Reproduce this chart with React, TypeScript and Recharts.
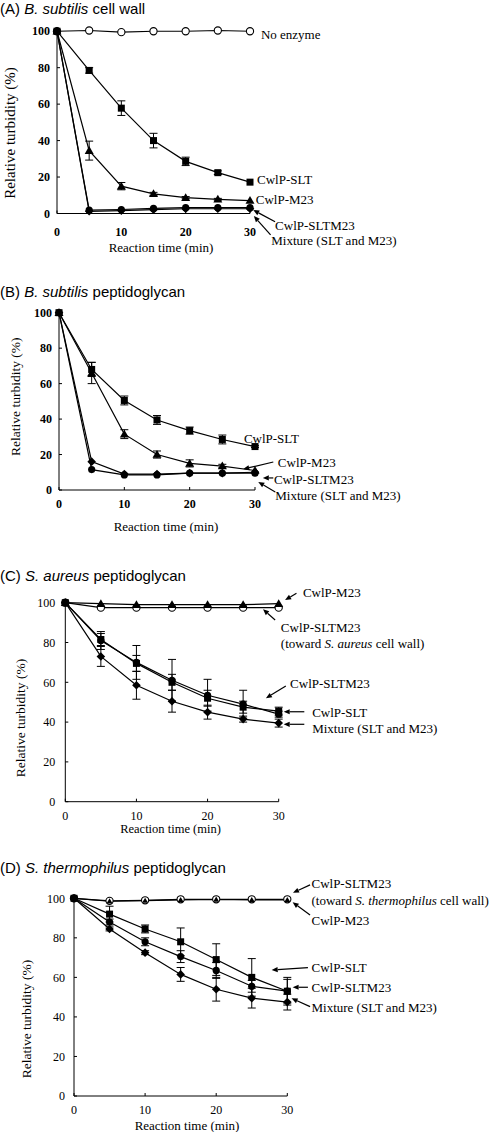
import React from 'react';
import { LineChart, Line, XAxis, YAxis, ErrorBar, ReferenceLine, ReferenceDot } from 'recharts';

const SERIF = "'Liberation Serif', 'Times New Roman', serif";
const SANS = "'Liberation Sans', Arial, sans-serif";

const times = [0, 5, 10, 15, 20, 25, 30];
const xTicks = [0, 10, 20, 30];
const yTicks = [0, 20, 40, 60, 80, 100];

// Panel A: B. subtilis cell wall
const aNoEnzyme = [100, 100.4, 99.5, 100, 100, 100.4, 100];
const aSlt = [100, 78.5, 57.8, 40, 28.6, 22.4, 17.2];
const aSltErr = [0, 1.5, 4, 4, 2.3, 1, 0];
const aM23 = [100, 34.5, 15, 10.8, 8.7, 7.8, 7.1];
const aM23Err = [0, 5.2, 2, 0.8, 0.6, 0.5, 0];
const aSltm23 = [100, 1.2, 1.6, 2.1, 2.6, 2.6, 2.6];
const aMix = [100, 1.8, 2.2, 2.8, 3.2, 3.2, 3.2];

// Panel B: B. subtilis peptidoglycan
const bSlt = [100, 68, 50.5, 39.5, 33.5, 28.5, 24.5];
const bSltErr = [0, 4, 2.5, 2.5, 2, 2.5, 0.5];
const bM23 = [100, 66, 31.5, 20, 15, 13.5, 11];
const bM23Err = [0, 6, 2.5, 2, 2, 1, 0];
const bSltm23 = [100, 16, 9, 9, 9.5, 9.5, 10];
const bMix = [100, 11.5, 8.5, 8.5, 9.5, 9.5, 9.5];

// Panel C: S. aureus peptidoglycan
const cM23 = [100, 99.5, 99, 99, 99, 99, 99.5];
const cSltm23Toward = [100, 97.5, 97.5, 97.5, 97.5, 97.5, 97.5];
const cSltm23 = [100, 81, 70, 61, 53.5, 49, 44];
const cSltm23Err = [0, 4.5, 8.5, 10.5, 8, 7, 1.5];
const cSlt = [100, 81.5, 69.5, 60, 52, 47.5, 45.5];
const cSltErr = [0, 3, 4, 4, 4, 3, 2];
const cMix = [100, 73, 58.5, 50.5, 45, 41.5, 39.5];
const cMixErr = [0, 5, 7, 5.5, 3.5, 1.5, 2];

// Panel D: S. thermophilus peptidoglycan
const dSltm23Toward = [100, 98.7, 99, 99.5, 99.5, 99.5, 99.5];
const dM23 = [100, 98.5, 98.8, 99.2, 99.4, 99.2, 99.2];
const dSlt = [100, 92, 84.5, 78, 69, 60, 53];
const dSltErr = [0, 4, 2, 7, 8, 9.5, 7];
const dSltm23 = [100, 88, 78, 70.5, 63.5, 55.5, 53];
const dSltm23Err = [0, 1.5, 2, 3, 4, 3, 6];
const dMix = [100, 84.5, 72.5, 61.5, 54, 49.5, 47.5];
const dMixErr = [0, 1, 1, 3.5, 6, 5, 4];

type Seg = [string, boolean?];
type Lab = { segs: Seg[]; t: number; v: number };
type Arr = { t1: number; v1: number; t2: number; v2: number };

const aLabels: Lab[] = [
  { segs: [['No enzyme']], t: 31.7, v: 98.1 },
  { segs: [['CwlP-SLT']], t: 31.1, v: 18.9 },
  { segs: [['CwlP-M23']], t: 30.9, v: 7.9 },
  { segs: [['CwlP-SLTM23']], t: 33.9, v: -6.8 },
  { segs: [['Mixture (SLT and M23)']], t: 33.3, v: -15 },
];
const aArrows: Arr[] = [
  { t1: 33.9, v1: -4.5, t2: 30.5, v2: 1.9 },
  { t1: 33.2, v1: -11.7, t2: 30.6, v2: -1.4 },
];

const bLabels: Lab[] = [
  { segs: [['CwlP-SLT']], t: 28.3, v: 28.8 },
  { segs: [['CwlP-M23']], t: 33.5, v: 15.8 },
  { segs: [['CwlP-SLTM23']], t: 32.9, v: 6.2 },
  { segs: [['Mixture (SLT and M23)']], t: 33.1, v: -2.8 },
];
const bArrows: Arr[] = [
  { t1: 32.8, v1: 15.8, t2: 28.2, v2: 11.8 },
  { t1: 32.8, v1: 6.8, t2: 31.2, v2: 6.8 },
  { t1: 33.1, v1: -1.1, t2: 30.5, v2: 4.5 },
];

const cLabels: Lab[] = [
  { segs: [['CwlP-M23']], t: 33.4, v: 104.9 },
  { segs: [['CwlP-SLTM23']], t: 30.3, v: 87.8 },
  { segs: [['(toward '], ['S. aureus', true], [' cell wall)']], t: 30.3, v: 79.7 },
  { segs: [['CwlP-SLTM23']], t: 31.6, v: 59.2 },
  { segs: [['CwlP-SLT']], t: 34.7, v: 45.1 },
  { segs: [['Mixture (SLT and M23)']], t: 34.7, v: 37.0 },
];
const cArrows: Arr[] = [
  { t1: 32.5, v1: 104.7, t2: 30.9, v2: 101.4 },
  { t1: 29.5, v1: 91.3, t2: 27.8, v2: 96.7 },
  { t1: 31.0, v1: 58.1, t2: 28.2, v2: 52.0 },
  { t1: 33.6, v1: 45.2, t2: 30.7, v2: 45.2 },
  { t1: 33.6, v1: 38.9, t2: 30.7, v2: 38.9 },
];

const dLabels: Lab[] = [
  { segs: [['CwlP-SLTM23']], t: 33.4, v: 107.3 },
  { segs: [['(toward '], ['S. thermophilus', true], [' cell wall)']], t: 33.4, v: 99.1 },
  { segs: [['CwlP-M23']], t: 33.4, v: 88.7 },
  { segs: [['CwlP-SLT']], t: 33.4, v: 64.9 },
  { segs: [['CwlP-SLTM23']], t: 33.4, v: 55.0 },
  { segs: [['Mixture (SLT and M23)']], t: 33.4, v: 44.9 },
];
const dArrows: Arr[] = [
  { t1: 33.2, v1: 106.8, t2: 30.8, v2: 102.8 },
  { t1: 33.2, v1: 91.6, t2: 30.75, v2: 98.0 },
  { t1: 32.9, v1: 64.9, t2: 27.8, v2: 63.7 },
  { t1: 32.9, v1: 55.0, t2: 30.75, v2: 55.0 },
  { t1: 33.2, v1: 45.2, t2: 30.6, v2: 49.4 },
];

type Kind = 'openCircle' | 'square' | 'triangle' | 'diamond' | 'circle' | 'smallTriangle';

const rows = (vals: number[], errs?: number[]) =>
  times.map((t, i) => ({ t, v: vals[i], e: errs ? errs[i] : 0 }));

const marker = (kind: Kind) => (p: any) => {
  const { cx, cy, index } = p;
  if (cx == null || cy == null) return <g key={index} />;
  const k = `m-${index}`;
  switch (kind) {
    case 'openCircle':
      return <circle key={k} cx={cx} cy={cy} r={3.6} fill="#fff" stroke="#000" strokeWidth={1.1} />;
    case 'square':
      return <rect key={k} x={cx - 3.5} y={cy - 3.5} width={7} height={7} fill="#000" />;
    case 'triangle':
      return <polygon key={k} points={`${cx},${cy - 4.5} ${cx - 4.5},${cy + 3.3} ${cx + 4.5},${cy + 3.3}`} fill="#000" />;
    case 'smallTriangle':
      return <polygon key={k} points={`${cx},${cy - 3} ${cx - 3},${cy + 2.2} ${cx + 3},${cy + 2.2}`} fill="#000" />;
    case 'diamond':
      return <polygon key={k} points={`${cx},${cy - 4.3} ${cx + 4.3},${cy} ${cx},${cy + 4.3} ${cx - 4.3},${cy}`} fill="#000" />;
    default:
      return <circle key={k} cx={cx} cy={cy} r={3.6} fill="#000" />;
  }
};

const ArrowShape = (p: any) => {
  const { x1, y1, x2, y2 } = p;
  if ([x1, y1, x2, y2].some((n) => n == null || Number.isNaN(n))) return <g />;
  const ang = Math.atan2(y2 - y1, x2 - x1);
  const L = 6;
  const W = 2.6;
  const c = Math.cos(ang);
  const s = Math.sin(ang);
  const bx = x2 - L * c;
  const by = y2 - L * s;
  return (
    <g>
      <line x1={x1} y1={y1} x2={bx} y2={by} stroke="#000" strokeWidth={1.2} />
      <polygon points={`${x2},${y2} ${bx - W * s},${by + W * c} ${bx + W * s},${by - W * c}`} fill="#000" />
    </g>
  );
};

const textShape = (segs: Seg[]) => (p: any) => (
  <text x={p.cx} y={p.cy} dy="0.35em" fontFamily={SERIF} fontSize={13} fill="#000" textAnchor="start">
    {segs.map(([s, it], i) => (
      <tspan key={i} fontStyle={it ? 'italic' : 'normal'}>{s}</tspan>
    ))}
  </text>
);

type Series = { vals: number[]; errs?: number[]; kind: Kind };
type Geo = {
  top: number; height: number; plotTop: number; plotBottom: number; plotLeft: number; plotRight: number;
  xTickMargin: number; yTickMargin: number; bold: boolean;
};

function Panel({ g, series, labels, arrows }: { g: Geo; series: Series[]; labels: Lab[]; arrows: Arr[] }) {
  const tickStyle = { fontSize: 12, fontFamily: SERIF, fontWeight: g.bold ? 'bold' : 'normal', fill: '#000' } as any;
  return (
    <div style={{ position: 'absolute', left: 0, top: g.top, width: 498, height: g.height }}>
      <LineChart
        width={498}
        height={g.height}
        margin={{ top: g.plotTop - g.top, right: 498 - g.plotRight, bottom: 0, left: 0 }}
        style={{ overflow: 'visible' }}
      >
        <XAxis
          type="number"
          dataKey="t"
          domain={[0, 30]}
          ticks={xTicks}
          interval={0}
          height={g.top + g.height - g.plotBottom}
          tickSize={-3}
          tickMargin={g.xTickMargin}
          tick={tickStyle}
          axisLine={{ stroke: '#000', strokeWidth: 1 }}
          tickLine={{ stroke: '#000', strokeWidth: 1 }}
        />
        <YAxis
          type="number"
          domain={[0, 100]}
          ticks={yTicks}
          interval={0}
          width={g.plotLeft}
          tickSize={-3}
          tickMargin={g.yTickMargin}
          tick={tickStyle}
          axisLine={{ stroke: '#000', strokeWidth: 1 }}
          tickLine={{ stroke: '#000', strokeWidth: 1 }}
        />
        {series.map((s, i) => (
          <Line
            key={i}
            data={rows(s.vals, s.errs)}
            dataKey="v"
            type="linear"
            stroke="#000"
            strokeWidth={1.2}
            dot={marker(s.kind)}
            activeDot={false}
            isAnimationActive={false}
          >
            {s.errs ? <ErrorBar dataKey="e" width={4} stroke="#000" strokeWidth={1} direction="y" /> : null}
          </Line>
        ))}
        {arrows.map((a, i) => (
          <ReferenceLine
            key={`a${i}`}
            segment={[{ x: a.t1, y: a.v1 }, { x: a.t2, y: a.v2 }]}
            ifOverflow="visible"
            shape={ArrowShape}
          />
        ))}
        {labels.map((l, i) => (
          <ReferenceDot key={`l${i}`} x={l.t} y={l.v} ifOverflow="visible" shape={textShape(l.segs)} />
        ))}
      </LineChart>
    </div>
  );
}

const geoA: Geo = { top: 0, height: 262, plotTop: 30.5, plotBottom: 213.5, plotLeft: 57, plotRight: 250, xTickMargin: 16.5, yTickMargin: 10, bold: true };
const geoB: Geo = { top: 270, height: 270, plotTop: 312.7, plotBottom: 490, plotLeft: 59, plotRight: 255, xTickMargin: 12, yTickMargin: 10, bold: true };
const geoC: Geo = { top: 560, height: 280, plotTop: 602.7, plotBottom: 801.7, plotLeft: 65.3, plotRight: 278.7, xTickMargin: 13, yTickMargin: 13, bold: false };
const geoD: Geo = { top: 845, height: 287, plotTop: 898.3, plotBottom: 1096, plotLeft: 74, plotRight: 287.3, xTickMargin: 12, yTickMargin: 12, bold: false };

const titles: { letter: string; species: string; rest: string; y: number }[] = [
  { letter: '(A) ', species: 'B. subtilis', rest: ' cell wall', y: 13.5 },
  { letter: '(B) ', species: 'B. subtilis', rest: ' peptidoglycan', y: 297 },
  { letter: '(C) ', species: 'S. aureus', rest: ' peptidoglycan', y: 580.5 },
  { letter: '(D) ', species: 'S. thermophilus', rest: ' peptidoglycan', y: 872.5 },
];
const xTitles = [
  { x: 161, y: 247, size: 13 },
  { x: 166, y: 526.7, size: 13 },
  { x: 170.5, y: 828.3, size: 12.5 },
  { x: 187, y: 1125, size: 13 },
];
const yTitles = [
  { x: 10, y: 133, size: 15 },
  { x: 15, y: 396.7, size: 13.5 },
  { x: 20, y: 718, size: 13.5 },
  { x: 26, y: 1019, size: 13.5 },
];

export default function App() {
  return (
    <div style={{ position: 'absolute', left: 0, top: 0, width: 498, height: 1132, background: '#fff' }}>
      <Panel
        g={geoA}
        series={[
          { vals: aNoEnzyme, kind: 'openCircle' },
          { vals: aSlt, errs: aSltErr, kind: 'square' },
          { vals: aM23, errs: aM23Err, kind: 'triangle' },
          { vals: aSltm23, kind: 'diamond' },
          { vals: aMix, kind: 'circle' },
        ]}
        labels={aLabels}
        arrows={aArrows}
      />
      <Panel
        g={geoB}
        series={[
          { vals: bSlt, errs: bSltErr, kind: 'square' },
          { vals: bM23, errs: bM23Err, kind: 'triangle' },
          { vals: bSltm23, kind: 'diamond' },
          { vals: bMix, kind: 'circle' },
        ]}
        labels={bLabels}
        arrows={bArrows}
      />
      <Panel
        g={geoC}
        series={[
          { vals: cSltm23Toward, kind: 'openCircle' },
          { vals: cM23, kind: 'triangle' },
          { vals: cSltm23, errs: cSltm23Err, kind: 'circle' },
          { vals: cSlt, errs: cSltErr, kind: 'square' },
          { vals: cMix, errs: cMixErr, kind: 'diamond' },
        ]}
        labels={cLabels}
        arrows={cArrows}
      />
      <Panel
        g={geoD}
        series={[
          { vals: dSltm23Toward, kind: 'openCircle' },
          { vals: dM23, kind: 'smallTriangle' },
          { vals: dSlt, errs: dSltErr, kind: 'square' },
          { vals: dSltm23, errs: dSltm23Err, kind: 'circle' },
          { vals: dMix, errs: dMixErr, kind: 'diamond' },
        ]}
        labels={dLabels}
        arrows={dArrows}
      />
      <svg width={498} height={1132} style={{ position: 'absolute', left: 0, top: 0, pointerEvents: 'none' }}>
        {titles.map((t, i) => (
          <text key={`t${i}`} x={0} y={t.y} fontFamily={SANS} fontSize={15} fill="#000">
            <tspan>{t.letter}</tspan>
            <tspan fontStyle="italic">{t.species}</tspan>
            <tspan>{t.rest}</tspan>
          </text>
        ))}
        {xTitles.map((t, i) => (
          <text key={`x${i}`} x={t.x} y={t.y} dy="0.35em" textAnchor="middle" fontFamily={SERIF} fontSize={t.size} fill="#000">
            Reaction time (min)
          </text>
        ))}
        {yTitles.map((t, i) => (
          <text
            key={`y${i}`}
            x={t.x}
            y={t.y}
            dy="0.35em"
            textAnchor="middle"
            fontFamily={SERIF}
            fontSize={t.size}
            fill="#000"
            transform={`rotate(-90 ${t.x} ${t.y})`}
          >
            Relative turbidity (%)
          </text>
        ))}
      </svg>
    </div>
  );
}
